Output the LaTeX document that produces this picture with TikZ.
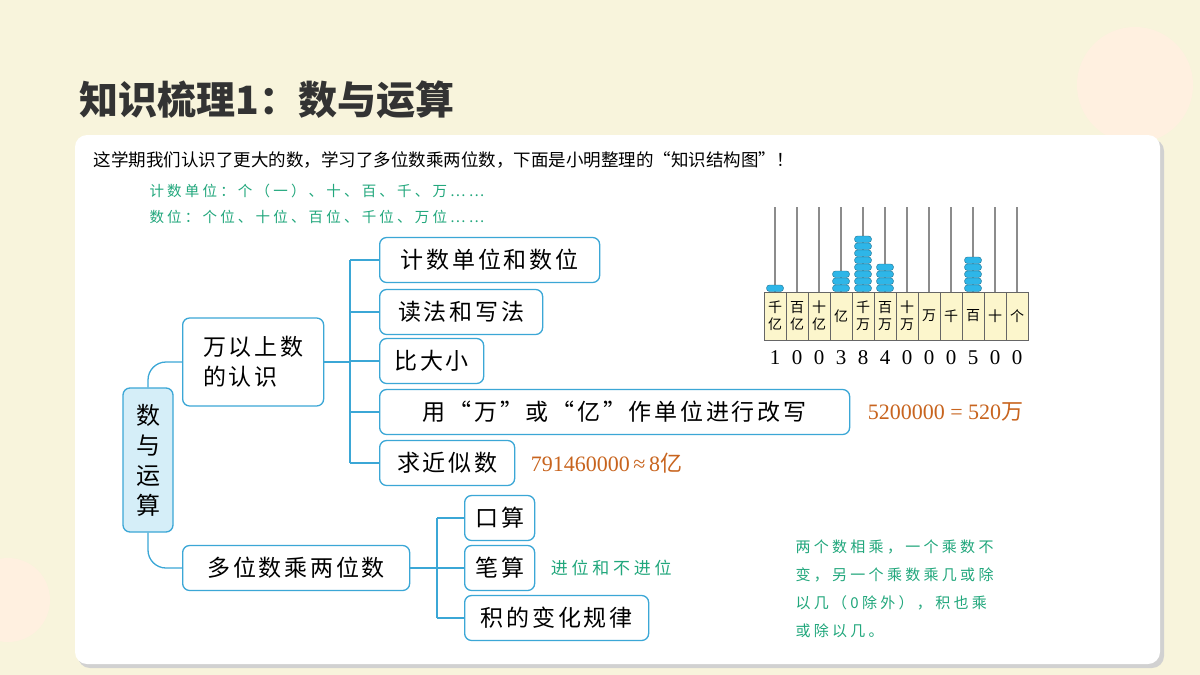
\documentclass[tikz,border=0pt]{standalone}
\usepackage{fontspec}
\setmainfont{Noto Sans CJK SC}
\newfontfamily\numfont{Liberation Serif}
\newfontfamily\widefont[LetterSpace=12]{Noto Sans CJK SC}
\newfontfamily\notefont[LetterSpace=22]{Noto Sans CJK SC}
\usetikzlibrary{positioning}
\definecolor{bgcream}{HTML}{F8F4DC}
\definecolor{bluline}{HTML}{3BA7D6}
\definecolor{rootfill}{HTML}{D5EEF8}
\definecolor{notegreen}{HTML}{21A77C}
\definecolor{exorange}{HTML}{C8641E}
\definecolor{beadblue}{HTML}{2EB6E8}
\definecolor{labfill}{HTML}{FCF6CC}
\tikzset{
  topic/.style={draw=bluline, line width=1.3pt, rounded corners=7pt, fill=white, anchor=west,
    font=\widefont\fontsize{23}{30}\selectfont, inner xsep=8pt, inner ysep=0pt, minimum height=45pt},
  note/.style={text=notegreen, font=\notefont\fontsize{14.5}{26}\selectfont, anchor=north west, align=left},
  link/.style={draw=bluline, line width=1.3pt},
  example/.style={text=exorange, font=\fontsize{22}{25}\selectfont, anchor=west}
}
\begin{document}
\begin{tikzpicture}[x=1pt,y=-1pt]
  \useasboundingbox (0,0) rectangle (1200,675);
  \fill[bgcream] (0,0) rectangle (1200,675);
  \fill[orange!12] (1135,85) circle (58);
  \fill[orange!12] (8,600) circle (42);
  \node[anchor=west, font=\bfseries\fontsize{39}{42}\selectfont, text=black!80] (title) at (76,100) {知识梳理1：数与运算};
  \fill[black!18, rounded corners=12pt] (78,139) rectangle (1164,668);
  \fill[white, rounded corners=12pt] (75,135) rectangle (1160,664);
  \node[anchor=west, font=\fontsize{17.5}{20}\selectfont] (intro) at (90,160)
    {这学期我们认识了更大的数，学习了多位数乘两位数，下面是小明整理的“知识结构图”！};
  \node[note] (units) at (146,181) {计数单位：个（一）、十、百、千、万……\\数位：个位、十位、百位、千位、万位……};
  % mind map
  \node[draw=bluline, line width=1.3pt, rounded corners=7pt, fill=rootfill, minimum width=50pt, minimum height=144pt,
    align=center, font=\fontsize{24}{30}\selectfont] (root) at (148,460) {数\\与\\运\\算};
  \node[topic, minimum height=88pt, align=left, minimum width=141pt] (wan) at (182,362) {万以上数\\的认识};
  \node[topic, minimum width=227pt] (multi) at (182,568) {多位数乘两位数};
  \node[topic, minimum width=220pt] (jishu) at (379,260) {计数单位和数位};
  \node[topic, minimum width=163pt] (dufa) at (379,312) {读法和写法};
  \node[topic, minimum width=104pt] (bidaxiao) at (379,361) {比大小};
  \node[topic, minimum width=470pt] (gaixie) at (379,412) {用“万”或“亿”作单位进行改写};
  \node[topic, minimum width=135pt] (jinsi) at (379,463) {求近似数};
  \node[topic, minimum width=70pt] (kousuan) at (464,518) {口算};
  \node[topic, minimum width=70pt] (bisuan) at (464,568) {笔算};
  \node[topic, minimum width=184pt] (guilv) at (464,618) {积的变化规律};
  \draw[link, rounded corners=18pt] (root.north) |- (wan.west);
  \draw[link, rounded corners=18pt] (root.south) |- (multi.west);
  \coordinate (wanfork) at (350,362);
  \draw[link] (wan.east) -- (wanfork);
  \draw[link] (wanfork |- jishu.west) -- (wanfork |- jinsi.west);
  \foreach \t in {jishu,dufa,bidaxiao,gaixie,jinsi}
    \draw[link] (wanfork |- \t.west) -- (\t.west);
  \coordinate (multifork) at (437,568);
  \draw[link] (multi.east) -- (multifork);
  \draw[link] (multifork |- kousuan.west) -- (multifork |- guilv.west);
  \foreach \t in {kousuan,bisuan,guilv}
    \draw[link] (multifork |- \t.west) -- (\t.west);
  \node[example, right=14pt of gaixie] (ex1) {\numfont 5200000 = 520\rmfamily 万};
  \node[example, right=12pt of jinsi] (ex2) {\numfont 791460000\,≈\,8\rmfamily 亿};
  \node[note, anchor=west, right=12pt of bisuan, font=\notefont\fontsize{17}{20}\selectfont] (carry) {进位和不进位};
  \node[note, font=\notefont\fontsize{15}{28}\selectfont] (rule) at (792,536)
    {两个数相乘，一个乘数不\\变，另一个乘数乘几或除\\以几（0除外），积也乘\\或除以几。};
  % abacus
  \foreach \lab/\n [count=\i from 0] in {{千\\亿}/1,{百\\亿}/0,{十\\亿}/0,{亿}/3,{千\\万}/8,{百\\万}/4,{十\\万}/0,{万}/0,{千}/0,{百}/5,{十}/0,{个}/0}{
    \pgfmathsetmacro{\cx}{775+22*\i}
    \draw[black!45, line width=1.6pt] (\cx,207) -- (\cx,292);
    \node[draw=black!60, fill=labfill, minimum width=22pt, minimum height=48pt, inner sep=0pt,
      align=center, font=\fontsize{14}{17}\selectfont] (col\i) at (\cx,316) {\lab};
    \node[font=\numfont\fontsize{21}{24}\selectfont] (dig\i) at (\cx,358) {\n};
    \ifnum\n>0
      \foreach \b in {1,...,\n}
        \draw[fill=beadblue, draw=beadblue!60!black, line width=0.4pt, rounded corners=3pt]
          (\cx-8.5,292-7*\b) rectangle (\cx+8.5,292-7*\b+6.5);
    \fi
  }
\end{tikzpicture}
\end{document}
